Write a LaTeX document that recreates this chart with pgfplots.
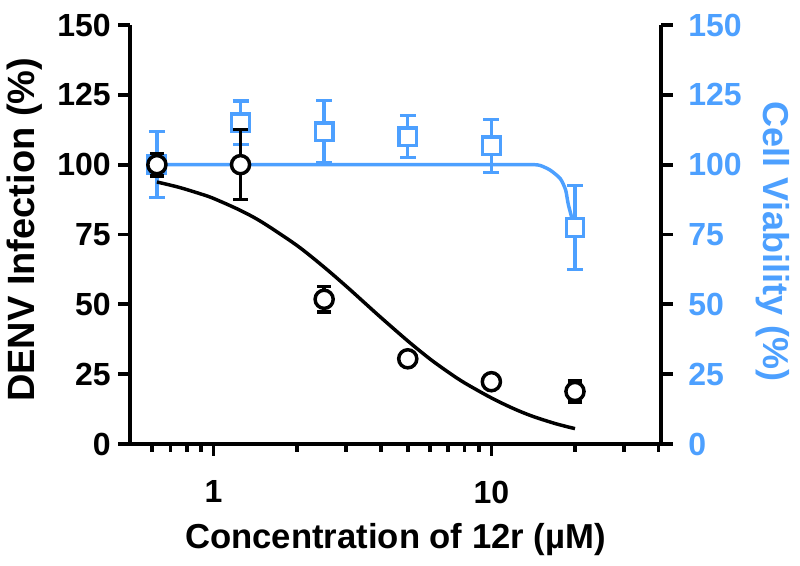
\documentclass[border=0pt]{standalone}
\usepackage{pgfplots}
\pgfplotsset{compat=1.18}
\usepackage{fontspec}
\setmainfont{Liberation Sans}
\definecolor{vblue}{RGB}{77,160,255}
\begin{document}
\begin{tikzpicture}
\path[use as bounding box] (-97.5pt,-91.5pt) rectangle (502.5pt,333pt);
% right axis (cell viability)
\begin{axis}[
  at={(0pt,0pt)}, anchor=south west, scale only axis,
  width=398.25pt, height=314.25pt,
  xmode=log, xmin=0.5, xmax=40.8, ymin=0, ymax=150,
  ytick={0,25,50,75,100,125,150},
  /pgf/number format/assume math mode=true,
  tick label style={font=\fontsize{24}{26}\selectfont\bfseries},
  label style={font=\fontsize{27}{29}\selectfont\bfseries},
  axis line style={line width=2.8pt},
  every tick/.style={line width=2.8pt, black},
  tick align=outside,
  major tick length=9pt,
  minor tick length=6pt,
  clip=false,
  hide x axis, axis y line*=right,
  yticklabel style={text=vblue},
  yticklabel shift=8pt,
  ylabel={Cell Viability (\%)},
  ylabel style={text=vblue, at={(axis description cs:1.211,0.483)}, anchor=center, rotate=180},
]
\addplot[vblue, line width=2.6pt, smooth, tension=0.4] coordinates {
 (0.625,100) (2,100) (5,100) (10,100) (14,100) (15,99.7) (16.3,98) (17.7,95) (18.5,91) (18.9,86) (19.6,80) (20,77.5)
};
\addplot[vblue, only marks, mark=square*, mark size=6.6pt,
  mark options={fill=white, draw=vblue, line width=2.5pt},
  error bars/.cd, y dir=both, y explicit,
  error bar style={line width=2.5pt, vblue},
  error mark options={rotate=90, mark size=6pt, line width=2.5pt, vblue}]
 table[x=x, y=y, y error=e] {
 x y e
 0.625 100 11.8
 1.25 115 7.8
 2.5 111.8 11.2
 5 110 7.5
 10 106.7 9.5
 20 77.5 15
};
\end{axis}
% left axis (DENV infection)
\begin{axis}[
  at={(0pt,0pt)}, anchor=south west, scale only axis,
  width=398.25pt, height=314.25pt,
  xmode=log, xmin=0.5, xmax=40.8, ymin=0, ymax=150,
  ytick={0,25,50,75,100,125,150},
  /pgf/number format/assume math mode=true,
  tick label style={font=\fontsize{24}{26}\selectfont\bfseries},
  label style={font=\fontsize{27}{29}\selectfont\bfseries},
  axis line style={line width=2.8pt},
  every tick/.style={line width=2.8pt, black},
  tick align=outside,
  major tick length=9pt,
  minor tick length=6pt,
  clip=false,
  axis x line*=bottom, axis y line*=left,
  xtick={1,10}, xticklabels={1,10},
  minor xtick={0.6,0.7,0.8,0.9,2,3,4,5,6,7,8,9,20,30,40},
  xticklabel shift=14pt,
  xticklabel style={yshift=-1pt},
  yticklabel shift=8pt,
  yticklabel style={xshift=6pt},
  xlabel={Concentration of 12r (µM)},
  xlabel style={at={(axis description cs:0.5,-0.229)}, anchor=center, font=\fontsize{26}{28}\selectfont\bfseries},
  ylabel={DENV Infection (\%)},
  ylabel style={at={(axis description cs:-0.198,0.511)}, anchor=center, font=\fontsize{28.5}{30}\selectfont\bfseries},
]
\addplot[black, line width=2.6pt, smooth, tension=0.5] coordinates {
 (0.625,93.8) (0.75,91.9) (0.9,89.5) (1.0,87.9) (1.25,83.6) (1.5,79.3) (2.0,71.0) (2.5,63.3)
 (3.0,56.5) (3.5,50.5) (4.0,45.3) (5.0,36.9) (6.0,30.5) (7.0,25.7) (8.0,21.9) (10,16.5)
 (12,12.7) (14,10.0) (17,7.3) (20,5.5)
};
\addplot[black, only marks, mark=*, mark size=6.8pt,
  mark options={fill=white, draw=black, line width=2.6pt},
  error bars/.cd, y dir=both, y explicit,
  error bar style={line width=2.6pt, black},
  error mark options={rotate=90, mark size=5.5pt, line width=2.6pt, black}]
 table[x=x, y=y, y error=e] {
 x y e
 0.625 100 4
 1.25 100 12.5
 2.5 51.8 4.5
 5 30.5 1
 10 22.3 1
 20 18.8 3.8
};
\end{axis}
\end{tikzpicture}
\end{document}
